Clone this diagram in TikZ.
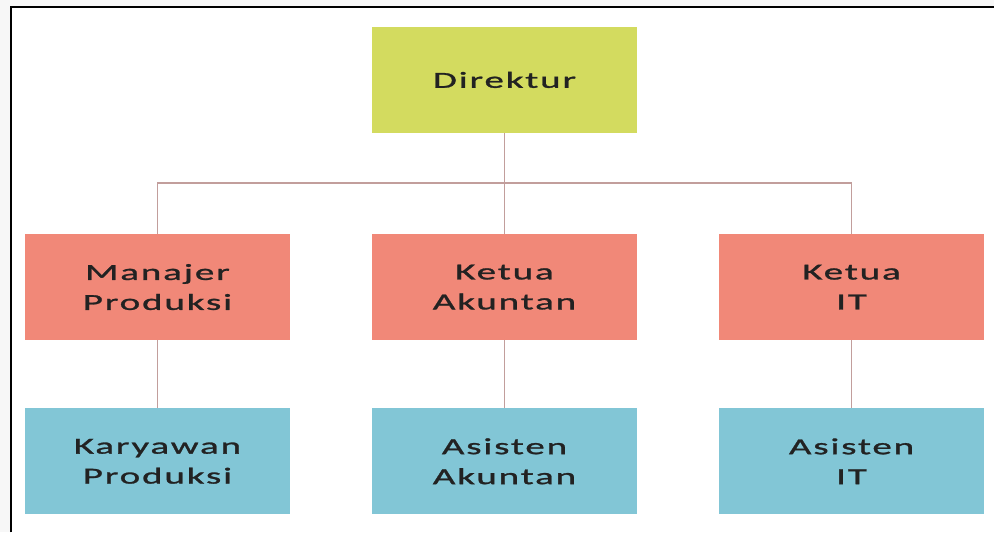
\documentclass[tikz,border=0pt]{standalone}
\usepackage{fontspec}
\usepackage{tikz}
\usetikzlibrary{scopes,positioning}

\newfontfamily\boxfont[FakeStretch=1.7,LetterSpace=8,FakeBold=1.2]{Carlito}

\definecolor{dirgreen}{HTML}{D3DB5F}
\definecolor{headred}{HTML}{F18878}
\definecolor{staffblue}{HTML}{82C6D6}
\definecolor{linkrose}{HTML}{C29E9C}
\definecolor{textdark}{HTML}{222222}

\begin{document}
\begin{tikzpicture}[
    x=1pt,y=1pt,
    unit/.style={rectangle,minimum width=266pt,minimum height=106pt,inner sep=0pt,
        align=center,text=textdark,font=\boxfont\fontsize{23}{30}\selectfont},
    dir/.style={unit,fill=dirgreen},
    head/.style={unit,fill=headred},
    staff/.style={unit,fill=staffblue},
    link/.style={draw=linkrose,line width=1.7pt},
]

    % frame
    \fill[gray!6] (0,0) rectangle (995,533);
    \fill[white] (11,0) rectangle (995,526);
    \draw[line width=2pt] (11,0) -- (11,526) -- (995,526);

    % nodes
    \node[dir] (direktur) at (505,453) {Direktur};
    \node[head,below=101pt of direktur] (akuntan) {Ketua\\Akuntan};
    \node[head,left=81pt of akuntan] (produksi) {Manajer\\Produksi};
    \node[head,right=81pt of akuntan] (it) {Ketua\\IT};
    \node[staff,below=68pt of produksi] (karyawan) {Karyawan\\Produksi};
    \node[staff,below=68pt of akuntan] (asakun) {Asisten\\Akuntan};
    \node[staff,below=68pt of it] (asit) {Asisten\\IT};

    % links
    \coordinate (bar) at (505,350);
    {[link]
        \draw (direktur.south) -- (akuntan.north);
        \draw (produksi.north) |- (bar) -| (it.north);
        \draw (produksi.south) -- (karyawan.north);
        \draw (akuntan.south) -- (asakun.north);
        \draw (it.south) -- (asit.north);
    }

\end{tikzpicture}
\end{document}
